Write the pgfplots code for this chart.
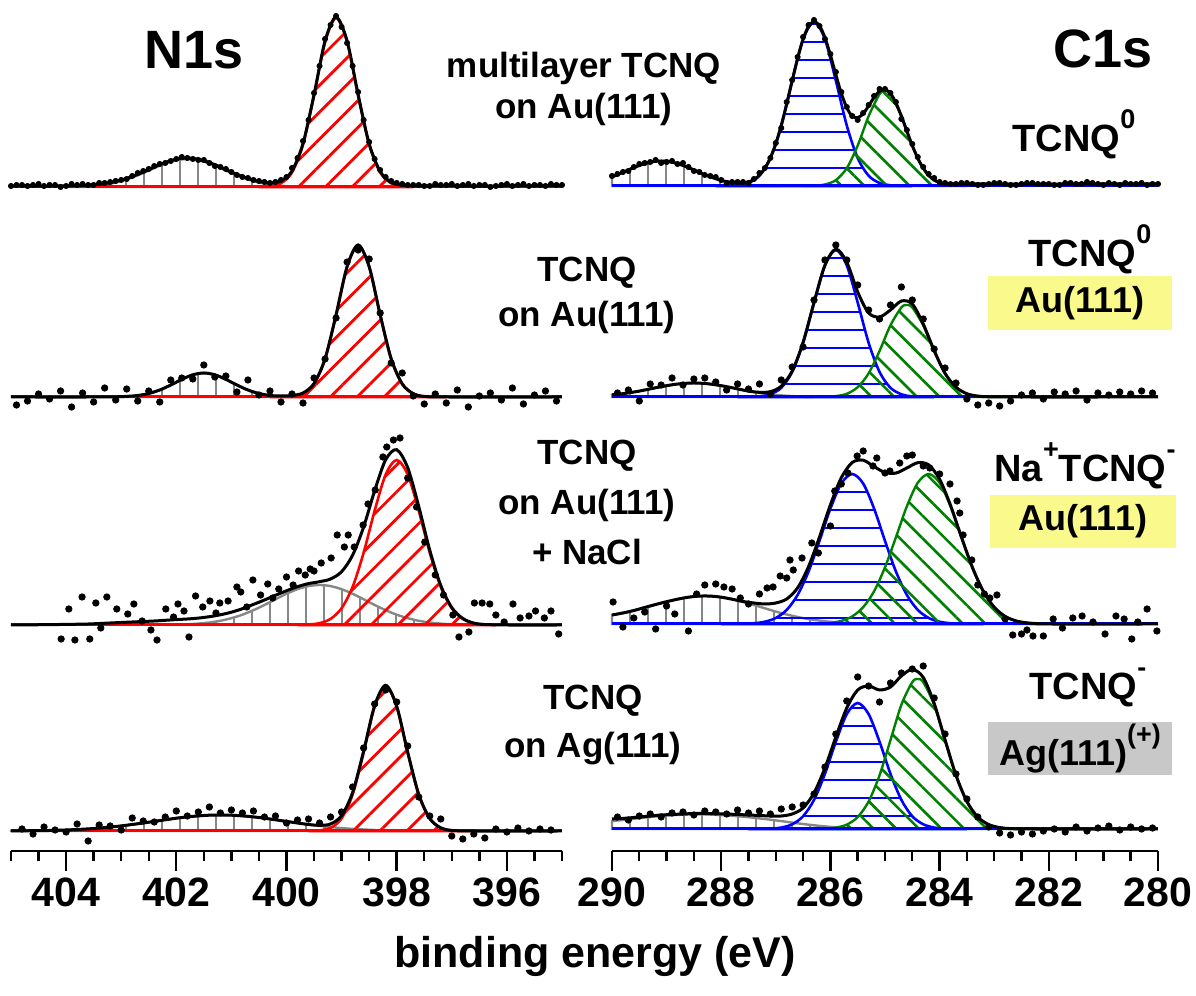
\documentclass[border=0pt]{standalone}
\usepackage{fontspec}
\setmainfont{Liberation Sans}
\usepackage{pgfplots}
\pgfplotsset{compat=1.18}
\usetikzlibrary{patterns.meta}
\definecolor{cred}{RGB}{255,0,0}
\definecolor{cblue}{RGB}{0,0,255}
\definecolor{cgreen}{RGB}{0,128,0}
\definecolor{cgray}{RGB}{135,135,135}
\definecolor{boxyellow}{RGB}{250,250,140}
\definecolor{boxgray}{RGB}{200,200,200}
\newcommand{\lab}{\fontsize{17.5}{20}\selectfont\bfseries}
\newcommand{\rlab}{\fontsize{19}{22}\selectfont\bfseries}
\newcommand{\sups}[1]{\raisebox{0.62em}{\fontsize{13.5}{14}\selectfont #1}}
\pgfplotsset{
  panel/.style={scale only axis, anchor=south west, clip=false, x dir=reverse},
  npanel/.style={panel, width=275.5pt, xmin=395, xmax=405},
  cpanel/.style={panel, width=273pt, xmin=280, xmax=290},
  hatchred/.style={draw=cred, line width=1.3pt, smooth, pattern={Lines[angle=45,distance=9.5pt,line width=1.4pt]}, pattern color=cred},
  hatchblue/.style={draw=cblue, line width=1.3pt, smooth, pattern={Lines[angle=0,distance=9pt,line width=1.4pt]}, pattern color=cblue},
  hatchgreen/.style={draw=cgreen, line width=1.2pt, smooth, pattern={Lines[angle=-45,distance=8pt,line width=1.3pt]}, pattern color=cgreen},
  hatchgray/.style={draw=cgray, line width=1.2pt, smooth, pattern={Lines[angle=90,distance=9pt,line width=1.3pt]}, pattern color=cgray},
  env/.style={black, line width=1.5pt, smooth},
  pts/.style={only marks, mark=*, mark size=1.6pt, black},
  bottomaxis/.style={axis x line*=bottom, axis y line=none, tick align=outside,
    major tick length=10pt, minor tick length=5pt,
    every tick/.style={black, line width=1.2pt},
    axis line style={black, line width=1.2pt},
    xticklabel style={font=\fontsize{20.5}{24}\selectfont\bfseries}},
}
\begin{document}
\begin{tikzpicture}
\useasboundingbox (0,0) rectangle (598pt,498pt);

% ================= N1s row 1 =================
\begin{axis}[npanel, hide axis, at={(5.5pt,389.5pt)}, height=115pt, ymin=-30, ymax=200]
\addplot[hatchgray] coordinates {(403.9,0.2)(403.7,0.5)(403.5,1.3)(403.3,2.4)(403.1,4.5)(402.9,7.6)(402.7,11.6)(402.5,16.4)(402.3,21.3)(402.1,25.3)(401.9,27.6)(401.7,27.6)(401.5,25.3)(401.3,21.3)(401.1,16.4)(400.9,11.6)(400.7,7.6)(400.5,4.5)(400.3,2.4)(400.1,1.3)(399.9,0.5)(399.7,0.2)} \closedcycle;
\addplot[hatchred] coordinates {(400.5,0)(400.3,0.7)(400.1,3.7)(399.9,14.5)(399.7,42.4)(399.5,91.4)(399.3,145)(399.1,169)(398.9,145)(398.7,91.4)(398.5,42.4)(398.3,14.5)(398.1,3.7)(397.9,0.7)(397.7,0)} \closedcycle;
\addplot[cred, line width=1.5pt] coordinates {(405,0)(395,0)};
\addplot[env] coordinates {(405,1)(404.1,1)(403.9,1.2)(403.7,1.5)(403.5,2.3)(403.3,3.4)(403.1,5.5)(402.9,8.6)(402.7,12.6)(402.5,17.4)(402.3,22.3)(402.1,26.3)(401.9,28.6)(401.7,28.6)(401.5,26.3)(401.3,22.3)(401.1,17.4)(400.9,12.6)(400.7,8.6)(400.5,5.5)(400.3,4.1)(400.1,6)(399.9,16)(399.7,43.6)(399.5,92.4)(399.3,146)(399.1,170)(398.9,146)(398.7,92.4)(398.5,43.4)(398.3,15.5)(398.1,4.7)(397.9,1.7)(397.7,1.2)(397.3,1)(395,1)};
\addplot[pts, mark size=1.3pt] coordinates {(405.0,1)(404.9,2)(404.8,2)(404.7,1)(404.6,2)(404.5,3)(404.4,1)(404.3,2)(404.2,2)(404.1,0)(404.0,1)(403.9,3)(403.8,2)(403.7,3)(403.6,2)(403.5,2)(403.4,4)(403.3,4)(403.2,5)(403.1,6)(403.0,7)(402.9,8)(402.8,11)(402.7,14)(402.6,16)(402.5,18)(402.4,21)(402.3,23)(402.2,24)(402.1,26)(402.0,28)(401.9,30)(401.8,29)(401.7,28)(401.6,27)(401.5,27)(401.4,24)(401.3,21)(401.2,20)(401.1,18)(401.0,15)(400.9,12)(400.8,10)(400.7,9)(400.6,7)(400.5,6)(400.4,5)(400.3,4)(400.2,5)(400.1,7)(400.0,10)(399.9,19)(399.8,29)(399.7,46)(399.6,67)(399.5,94)(399.4,121)(399.3,148)(399.2,162)(399.1,171)(399.0,160)(398.9,144)(398.8,121)(398.7,95)(398.6,67)(398.5,45)(398.4,28)(398.3,17)(398.2,10)(398.1,6)(398.0,4)(397.9,3)(397.8,2)(397.7,2)(397.6,2)(397.5,1)(397.4,1)(397.3,3)(397.2,2)(397.1,2)(397.0,3)(396.9,1)(396.8,2)(396.7,3)(396.6,1)(396.5,2)(396.4,2)(396.3,0)(396.2,1)(396.1,2)(396.0,3)(395.9,1)(395.8,2)(395.7,3)(395.6,1)(395.5,2)(395.4,2)(395.3,1)(395.2,3)(395.1,2)(395.0,2)};
\end{axis}

% ================= N1s row 2 =================
\begin{axis}[npanel, hide axis, at={(5.5pt,284.5pt)}, height=115pt, ymin=-30, ymax=200]
\addplot[hatchgray] coordinates {(403.5,0)(403.1,0.2)(402.9,0.6)(402.7,1.5)(402.5,3.5)(402.3,7.0)(402.1,12.0)(401.9,17.6)(401.7,22.2)(401.5,24)(401.3,22.2)(401.1,17.6)(400.9,12.0)(400.7,7.0)(400.5,3.5)(400.3,1.5)(400.1,0.6)(399.9,0.2)(399.5,0)} \closedcycle;
\addplot[hatchred] coordinates {(400.3,0)(399.9,0.6)(399.7,3.3)(399.5,13.1)(399.3,38.2)(399.1,82.2)(398.9,130.4)(398.7,152)(398.5,130.4)(398.3,82.2)(398.1,38.2)(397.9,13.1)(397.7,3.3)(397.5,0.6)(397.1,0)} \closedcycle;
\addplot[cred, line width=1.5pt] coordinates {(405,0)(395,0)};
\addplot[env] coordinates {(405,0)(403.5,0)(403.1,0.2)(402.9,0.6)(402.7,1.5)(402.5,3.5)(402.3,7.0)(402.1,12)(401.9,17.6)(401.7,22.2)(401.5,24)(401.3,22.2)(401.1,17.6)(400.9,12)(400.7,7)(400.5,3.5)(400.3,1.5)(400.1,1)(399.9,1.5)(399.7,4)(399.5,13.5)(399.3,38.2)(399.1,82.2)(398.9,130.4)(398.7,152)(398.5,130.4)(398.3,82.2)(398.1,38.2)(397.9,13.1)(397.7,3.3)(397.5,0.6)(397.1,0)(395,0)};
\addplot[pts] coordinates {(404.9,-8)(404.7,-4)(404.5,3)(404.3,-2)(404.1,6)(403.9,-10)(403.7,4)(403.5,-5)(403.3,9)(403.1,-3)(402.9,8)(402.7,-4)(402.5,6)(402.3,-5)(402.1,17)(401.9,19)(401.7,18)(401.5,32)(401.3,20)(401.1,21)(400.9,5)(400.7,17)(400.5,2)(400.3,6)(400.1,-5)(399.9,3)(399.7,-6)(399.5,19)(399.3,38)(399.1,79)(398.9,135)(398.7,147)(398.5,138)(398.3,84)(398.1,34)(397.9,24)(397.7,1)(397.5,-7)(397.3,3)(397.1,-6)(396.9,7)(396.7,-10)(396.5,1)(396.3,4)(396.1,-3)(395.9,9)(395.7,-7)(395.5,2)(395.3,6)(395.1,-4)};
\end{axis}

% ================= N1s row 3 =================
\begin{axis}[npanel, hide axis, at={(5.5pt,170.5pt)}, height=115pt, ymin=-30, ymax=200]
\addplot[hatchgray] coordinates {(402.2,0)(402.0,0.4)(401.8,0.7)(401.6,1.4)(401.4,2.5)(401.2,4.2)(401.0,6.8)(400.8,10.3)(400.6,14.8)(400.4,20)(400.2,25.7)(400.0,31.2)(399.8,35.8)(399.6,38.9)(399.4,40)(399.2,38.9)(399.0,35.8)(398.8,31.2)(398.6,25.7)(398.4,20)(398.2,14.8)(398.0,10.3)(397.8,6.8)(397.6,4.2)(397.4,2.5)(397.2,1.4)(397.0,0.7)(396.8,0.4)(396.6,0)} \closedcycle;
\addplot[hatchred] coordinates {(399.8,0)(399.6,0.5)(399.4,1.8)(399.2,6.1)(399.0,16.7)(398.8,38.1)(398.6,72.3)(398.4,114.3)(398.2,150.5)(398.0,165)(397.8,150.5)(397.6,114.3)(397.4,72.3)(397.2,38.1)(397.0,16.7)(396.8,6.1)(396.6,1.8)(396.4,0.5)(396.2,0)} \closedcycle;
\addplot[cred, line width=1.5pt] coordinates {(405,0)(395,0)};
\addplot[env] coordinates {(405,0)(404.4,0.3)(404.0,0.6)(403.6,1)(403.2,2)(402.8,3)(402.4,4)(402.0,5.4)(401.8,6)(401.6,6.9)(401.4,8.3)(401.2,10.2)(401.0,12.8)(400.8,16.3)(400.6,20.6)(400.4,25)(400.2,29.7)(400.0,34.2)(399.8,38.3)(399.6,41.4)(399.4,43.3)(399.2,46)(399.0,53.3)(398.8,69.8)(398.6,98)(398.4,134.3)(398.2,165.3)(398.0,175.3)(397.8,157.3)(397.6,118.5)(397.4,74.8)(397.2,39.5)(397.0,17.4)(396.8,6.5)(396.6,1.8)(396.4,0.5)(396.0,0)(395,0)};
\addplot[pts] coordinates {(404.09,-14)(403.95,16)(403.84,-15)(403.71,28)(403.57,-14)(403.46,22)(403.37,-3)(403.26,28)(403.08,16)(402.88,11)(402.77,21)(402.62,4)(402.46,-5)(402.35,-15)(402.19,16)(402.05,8)(401.97,21)(401.86,14)(401.77,-12)(401.65,29)(401.52,18)(401.39,24)(401.28,12)(401.21,22)(401.06,24)(400.90,38)(400.83,33)(400.72,18)(400.61,45)(400.47,30)(400.34,41)(400.25,27)(400.14,36)(400.00,48)(399.88,40)(399.78,54)(399.66,50)(399.57,56)(399.50,54)(399.37,62)(399.19,67)(399.08,90)(398.95,78)(398.88,90)(398.77,78)(398.61,100)(398.52,121)(398.39,135)(398.25,168)(398.18,178)(398.06,185)(397.94,187)(397.80,147)(397.64,118)(397.49,83)(397.30,50)(397.15,30)(396.98,10)(396.87,-12)(396.69,-7)(396.59,22)(396.45,22)(396.31,21)(396.20,10)(396.05,3)(395.89,21)(395.76,7)(395.60,9)(395.48,14)(395.32,7)(395.20,14)(395.06,-9)};
\end{axis}

% ================= N1s row 4 (with x axis) =================
\begin{axis}[npanel, bottomaxis, at={(5.5pt,72.5pt)}, height=110pt, ymin=-20, ymax=200,
  xtick={396,398,400,402,404}, xticklabels={396,398,400,402,404},
  minor xtick={395,395.5,...,405}]
\addplot[hatchgray] coordinates {(405.0,0.1)(404.8,0.2)(404.6,0.3)(404.4,0.4)(404.2,0.7)(404.0,1.0)(403.8,1.5)(403.6,2.1)(403.4,2.9)(403.2,3.9)(403.0,5.1)(402.8,6.5)(402.6,8)(402.4,9.6)(402.2,11.2)(402.0,12.8)(401.8,14.1)(401.6,15.1)(401.4,15.8)(401.2,16)(401.0,15.8)(400.8,15.1)(400.6,14.1)(400.4,12.8)(400.2,11.2)(400.0,9.6)(399.8,8)(399.6,6.5)(399.4,5.1)(399.2,3.9)(399.0,2.9)(398.8,2.1)(398.6,1.5)(398.4,1.0)(398.2,0.7)(398.0,0.4)(397.8,0.3)(397.6,0.2)(397.4,0)} \closedcycle;
\addplot[hatchred] coordinates {(399.6,0)(399.4,0.6)(399.2,3.1)(399.0,12.5)(398.8,36.4)(398.6,78.4)(398.4,124.4)(398.2,145)(398.0,124.4)(397.8,78.4)(397.6,36.4)(397.4,12.5)(397.2,3.1)(397.0,0.6)(396.6,0)} \closedcycle;
\addplot[cred, line width=1.5pt] coordinates {(405,0)(395,0)};
\addplot[env] coordinates {(405,0.1)(404.8,0.2)(404.4,0.4)(404.0,1.0)(403.6,2.1)(403.4,2.9)(403.2,3.9)(403.0,5.1)(402.8,6.5)(402.6,8)(402.4,9.6)(402.2,11.2)(402.0,12.8)(401.8,14.1)(401.6,15.1)(401.4,15.8)(401.2,16)(401.0,15.8)(400.8,15.1)(400.6,14.1)(400.4,12.8)(400.2,11.2)(400.0,9.6)(399.8,8)(399.6,6.5)(399.4,5.7)(399.2,7.0)(399.0,15.4)(398.8,38.5)(398.6,79.9)(398.4,125.4)(398.2,145.7)(398.0,124.8)(397.8,78.7)(397.6,36.6)(397.4,12.5)(397.2,3.1)(397.0,0.6)(396.6,0)(395,0)};
\addplot[pts] coordinates {(404.8,2)(404.6,-3)(404.4,4)(404.2,1)(404.0,-1)(403.8,7)(403.6,-10)(403.4,6)(403.2,5)(403.0,1)(402.8,13)(402.6,10)(402.4,9)(402.2,14)(402.0,20)(401.8,15)(401.6,19)(401.4,24)(401.2,18)(401.0,21)(400.8,18)(400.6,20)(400.4,14)(400.2,15)(400.0,8)(399.8,11)(399.6,12)(399.4,8)(399.2,14)(399.0,19)(398.8,44)(398.6,83)(398.4,127)(398.2,141)(398.0,129)(397.8,85)(397.6,34)(397.4,15)(397.2,12)(397.0,-5)(396.8,-8)(396.6,-3)(396.4,-7)(396.2,2)(396.0,-1)(395.8,3)(395.6,0)(395.4,2)(395.2,1)};
\end{axis}

% ================= C1s row 1 =================
\begin{axis}[cpanel, hide axis, at={(306pt,390pt)}, height=115pt, ymin=-30, ymax=200]
\addplot[hatchgray] coordinates {(290.0,9.2)(289.9,11.3)(289.7,16.1)(289.5,20.5)(289.3,23.8)(289.1,25)(288.9,23.8)(288.7,20.5)(288.5,16.1)(288.3,11.3)(288.1,7.3)(287.9,4.3)(287.7,2.2)(287.5,1.1)(287.3,0.45)(287.1,0.2)(286.9,0)} \closedcycle;
\addplot[hatchblue] coordinates {(288.1,0)(287.9,0.1)(287.7,0.7)(287.5,3.0)(287.3,10.3)(287.1,27.9)(286.9,60.5)(286.7,105.3)(286.5,146.8)(286.3,164)(286.1,146.8)(285.9,105.3)(285.7,60.5)(285.5,27.9)(285.3,10.3)(285.1,3.0)(284.9,0.7)(284.7,0.1)(284.5,0)} \closedcycle;
\addplot[hatchgreen] coordinates {(286.5,0)(286.3,0.3)(286.1,1.5)(285.9,5.9)(285.7,17.8)(285.5,40.4)(285.3,69.8)(285.1,91.8)(285.0,95)(284.9,91.8)(284.7,69.8)(284.5,40.4)(284.3,17.8)(284.1,5.9)(283.9,1.5)(283.7,0.3)(283.5,0)} \closedcycle;
\addplot[cblue, line width=1.5pt] coordinates {(290,0)(280,0)};
\addplot[env] coordinates {(290.0,9.2)(289.9,11.3)(289.8,13.7)(289.7,16.1)(289.6,18.4)(289.5,20.5)(289.4,22.4)(289.3,23.8)(289.2,24.7)(289.1,25)(289.0,24.7)(288.9,23.8)(288.8,22.4)(288.7,20.5)(288.6,18.4)(288.5,16.1)(288.4,13.7)(288.3,11.3)(288.2,9.2)(288.1,7.3)(288.0,5.6)(287.9,4.4)(287.8,3.4)(287.7,2.9)(287.6,3.1)(287.5,4.1)(287.4,6.4)(287.3,10.8)(287.2,17.7)(287.1,28.1)(287.0,42.1)(286.9,60.5)(286.8,82)(286.7,105.3)(286.6,127.8)(286.5,146.8)(286.4,159.6)(286.3,164.3)(286.2,160.3)(286.1,148.3)(286.0,130.9)(285.9,111.2)(285.8,92.6)(285.7,78.3)(285.6,69.8)(285.5,68.3)(285.4,72.3)(285.3,80.1)(285.2,88.5)(285.1,94.8)(285.0,96.5)(284.9,92.5)(284.8,83.1)(284.7,69.9)(284.6,54.9)(284.5,40.4)(284.4,27.7)(284.3,17.8)(284.2,10.6)(284.1,5.9)(284.0,3.5)(283.9,2.2)(283.7,2)(280,2)};
\addplot[pts, mark size=1.3pt] coordinates {(290.0,10)(289.9,12)(289.8,14)(289.7,15)(289.6,19)(289.5,22)(289.4,23)(289.3,24)(289.2,26)(289.1,23)(289.0,24)(288.9,25)(288.8,22)(288.7,23)(288.6,19)(288.5,15)(288.4,14)(288.3,11)(288.2,10)(288.1,9)(288.0,6)(287.9,3)(287.8,4)(287.7,4)(287.6,4)(287.5,3)(287.4,7)(287.3,13)(287.2,18)(287.1,28)(287.0,43)(286.9,58)(286.8,84)(286.7,106)(286.6,129)(286.5,149)(286.4,161)(286.3,166)(286.2,160)(286.1,147)(286.0,132)(285.9,114)(285.8,94)(285.7,79)(285.6,70)(285.5,66)(285.4,73)(285.3,81)(285.2,90)(285.1,97)(285.0,97)(284.9,93)(284.8,84)(284.7,67)(284.6,56)(284.5,42)(284.4,29)(284.3,19)(284.2,12)(284.1,8)(284.0,4)(283.9,3)(283.8,2)(283.7,2)(283.6,3)(283.5,3)(283.4,2)(283.3,1)(283.2,1)(283.1,2)(283.0,3)(282.9,3)(282.8,2)(282.7,1)(282.6,1)(282.5,2)(282.4,3)(282.3,3)(282.2,2)(282.1,2)(282.0,2)(281.9,1)(281.8,1)(281.7,3)(281.6,3)(281.5,2)(281.4,2)(281.3,4)(281.2,3)(281.1,2)(281.0,1)(280.9,3)(280.8,2)(280.7,1)(280.6,3)(280.5,2)(280.4,2)(280.3,3)(280.2,1)(280.1,2)(280.0,2)};
\end{axis}

% ================= C1s row 2 =================
\begin{axis}[cpanel, hide axis, at={(306pt,284.5pt)}, height=115pt, ymin=-30, ymax=200]
\addplot[hatchgray] coordinates {(290.0,2.2)(289.9,2.6)(289.7,4.1)(289.5,5.9)(289.3,8.1)(289.1,10.3)(288.9,12.2)(288.7,13.5)(288.5,14)(288.3,13.5)(288.1,12.2)(287.9,10.3)(287.7,8.1)(287.5,5.9)(287.3,4.1)(287.1,2.6)(286.9,1.6)(286.7,0.9)(286.5,0.5)(286.3,0)} \closedcycle;
\addplot[hatchblue] coordinates {(287.7,0)(287.3,0.6)(287.1,2.7)(286.9,9.2)(286.7,25)(286.5,54.2)(286.3,94.4)(286.1,131.6)(285.9,147)(285.7,131.6)(285.5,94.4)(285.3,54.2)(285.1,25)(284.9,9.2)(284.7,2.7)(284.5,0.6)(284.1,0)} \closedcycle;
\addplot[hatchgreen] coordinates {(286.5,0)(286.1,0.2)(285.9,0.85)(285.7,3.2)(285.5,9.8)(285.3,23.6)(285.1,46)(284.9,71.7)(284.7,89.5)(284.6,92)(284.5,89.5)(284.3,71.7)(284.1,46)(283.9,23.6)(283.7,9.8)(283.5,3.2)(283.3,0.85)(283.1,0.2)(282.7,0)} \closedcycle;
\addplot[cblue, line width=1.5pt] coordinates {(290,0)(280,0)};
\addplot[env] coordinates {(290.0,2.2)(289.9,2.6)(289.7,4.1)(289.5,5.9)(289.3,8.1)(289.1,10.3)(288.9,12.2)(288.7,13.5)(288.5,14)(288.3,13.5)(288.1,12.2)(287.9,10.3)(287.7,8.1)(287.5,5.9)(287.3,4.7)(287.1,5.3)(286.9,10.8)(286.7,25.9)(286.5,54.7)(286.3,94.4)(286.1,131.8)(285.9,147.9)(285.7,134.8)(285.5,105)(285.3,84)(285.1,80)(284.9,87)(284.7,96)(284.5,93)(284.3,73)(284.1,46.5)(283.9,23.6)(283.7,9.8)(283.5,3.2)(283.3,0.9)(283.1,0.2)(282.7,0)(280,0)};
\addplot[pts] coordinates {(289.9,4)(289.7,7)(289.5,-4)(289.3,13)(289.1,12)(288.9,19)(288.7,12)(288.5,18)(288.3,19)(288.1,15)(287.9,7)(287.7,13)(287.5,8)(287.3,13)(287.1,3)(286.9,17)(286.7,30)(286.5,50)(286.3,97)(286.1,137)(285.9,152)(285.7,137)(285.5,112)(285.3,87)(285.1,78)(284.9,92)(284.7,110)(284.5,97)(284.3,78)(284.1,48)(283.9,29)(283.7,14)(283.5,-2)(283.3,-8)(283.1,-6)(282.9,-9)(282.7,-4)(282.5,2)(282.3,4)(282.1,-2)(281.9,5)(281.7,3)(281.5,6)(281.3,-3)(281.1,4)(280.9,2)(280.7,5)(280.5,3)(280.3,6)(280.1,4)};
\end{axis}

% ================= C1s row 3 =================
\begin{axis}[cpanel, hide axis, at={(306pt,171pt)}, height=115pt, ymin=-30, ymax=200]
\addplot[hatchgray] coordinates {(290.0,9.0)(289.8,11.0)(289.6,13.5)(289.4,16.5)(289.2,19.5)(289.0,22.3)(288.8,24.8)(288.6,26.8)(288.4,27.9)(288.2,27.9)(288.0,26.8)(287.8,24.8)(287.6,22.1)(287.4,19)(287.2,15.7)(287.0,12.4)(286.8,9.5)(286.6,7.0)(286.4,4.9)(286.2,3.4)(286.0,2.2)(285.8,1.4)(285.6,0.8)(285.4,0.5)(285.0,0)} \closedcycle;
\addplot[hatchblue] coordinates {(288.0,0)(287.6,0.2)(287.4,0.7)(287.2,2.25)(287.0,6.0)(286.8,14.1)(286.6,29.1)(286.4,52.5)(286.2,83.1)(286.0,115.4)(285.8,140.5)(285.6,150)(285.4,140.5)(285.2,115.4)(285.0,83.1)(284.8,52.5)(284.6,29.1)(284.4,14.1)(284.2,6.0)(284.0,2.25)(283.8,0.7)(283.6,0.2)(283.2,0)} \closedcycle;
\addplot[hatchgreen] coordinates {(286.6,0)(286.2,0.35)(286.0,1.1)(285.8,3.1)(285.6,7.6)(285.4,16.8)(285.2,32.7)(285.0,56.7)(284.8,86.7)(284.6,117.6)(284.4,141.2)(284.2,150)(284.0,141.2)(283.8,117.6)(283.6,86.7)(283.4,56.7)(283.2,32.7)(283.0,16.8)(282.8,7.6)(282.6,3.1)(282.4,1.1)(282.2,0.35)(281.8,0)} \closedcycle;
\addplot[cblue, line width=1.5pt] coordinates {(290,0)(280,0)};
\addplot[env] coordinates {(290.0,9.0)(289.8,11.0)(289.6,13.5)(289.4,16.5)(289.2,19.5)(289.0,22.3)(288.8,24.8)(288.6,26.8)(288.4,27.9)(288.2,27.9)(288.0,26.8)(287.8,24.8)(287.6,22.5)(287.4,21)(287.2,20)(287.0,21)(286.8,25)(286.6,36.1)(286.4,57.4)(286.2,86.9)(286.0,119.1)(285.8,146.3)(285.6,161.5)(285.4,163.8)(285.2,157.4)(285.0,151.5)(284.8,150.9)(284.6,156)(284.4,161.3)(284.2,159.1)(284.0,144.8)(283.8,118.7)(283.6,86.9)(283.4,56.7)(283.2,32.7)(283.0,16.8)(282.8,7.6)(282.6,3.1)(282.4,1.1)(282.2,0.35)(282.0,0)(280,0)};
\addplot[pts] coordinates {(289.98,22)(289.80,-3)(289.60,6)(289.40,12)(289.20,-5)(289.00,18)(288.85,10)(288.60,-7)(288.45,30)(288.30,39)(288.10,40)(287.95,37)(287.80,35)(287.65,26)(287.50,20)(287.30,30)(287.16,36)(287.05,37)(286.92,48)(286.80,46)(286.74,64)(286.68,54)(286.52,66)(286.34,81)(286.22,71)(286.00,98)(285.92,133)(285.80,140)(285.68,151)(285.51,168)(285.40,173)(285.22,158)(285.15,166)(285.00,151)(284.91,153)(284.73,161)(284.60,168)(284.50,169)(284.30,158)(284.18,156)(284.00,150)(283.81,140)(283.68,123)(283.63,111)(283.57,89)(283.41,64)(283.30,39)(283.18,30)(283.08,26)(282.95,29)(282.80,5)(282.66,-11)(282.50,-10)(282.40,-6)(282.29,-12)(282.10,-12)(281.92,5)(281.75,-4)(281.56,6)(281.39,8)(281.19,2)(280.97,-10)(280.77,8)(280.62,5)(280.48,-15)(280.37,2)(280.20,15)(280.02,-7)};
\end{axis}

% ================= C1s row 4 (with x axis) =================
\begin{axis}[cpanel, bottomaxis, at={(306pt,72.5pt)}, height=111pt, ymin=-22, ymax=200,
  xtick={280,282,284,286,288,290}, xticklabels={280,282,284,286,288,290},
  minor xtick={280,280.5,...,290}]
\addplot[hatchgray] coordinates {(290.0,8)(289.9,8.5)(289.7,9.5)(289.5,10.8)(289.3,12)(289.1,13)(288.9,13.8)(288.7,14.3)(288.5,14.6)(288.3,14.6)(288.1,14.2)(287.9,13.6)(287.7,12.8)(287.5,11.8)(287.3,10.6)(287.1,9.3)(286.9,7.9)(286.7,6.4)(286.5,5)(286.3,3.7)(286.1,2.6)(285.9,1.7)(285.7,1.0)(285.5,0.5)(285.3,0.2)(284.9,0)} \closedcycle;
\addplot[hatchblue] coordinates {(287.5,0)(287.1,0.35)(286.9,1.4)(286.7,4.7)(286.5,12.7)(286.3,29.1)(286.1,55.2)(285.9,87.3)(285.7,114.9)(285.5,126)(285.3,114.9)(285.1,87.3)(284.9,55.2)(284.7,29.1)(284.5,12.7)(284.3,4.7)(284.1,1.4)(283.9,0.35)(283.5,0)} \closedcycle;
\addplot[hatchgreen] coordinates {(286.5,0)(286.1,0.35)(285.9,1.35)(285.7,4.35)(285.5,11.9)(285.3,27.5)(285.1,53.7)(284.9,88.8)(284.7,124.2)(284.5,146.9)(284.4,150)(284.3,146.9)(284.1,124.2)(283.9,88.8)(283.7,53.7)(283.5,27.5)(283.3,11.9)(283.1,4.35)(282.9,1.35)(282.7,0.35)(282.3,0)} \closedcycle;
\addplot[cblue, line width=1.5pt] coordinates {(290,0)(280,0)};
\addplot[env] coordinates {(290.0,10)(289.9,10.2)(289.7,11)(289.5,12)(289.3,13)(289.1,14)(288.9,14.5)(288.7,15)(288.5,15.5)(288.3,15.5)(288.1,15.3)(287.9,15)(287.7,14.5)(287.5,14)(287.3,13.5)(287.1,13)(286.9,13)(286.7,15)(286.5,21)(286.3,36)(286.1,61)(285.9,92)(285.7,121)(285.5,139)(285.3,143)(285.1,139)(284.9,142)(284.7,153)(284.5,159.6)(284.3,151.6)(284.1,125.6)(283.9,89.2)(283.7,53.7)(283.5,27.5)(283.3,11.9)(283.1,4.4)(282.9,1.4)(282.7,0.4)(282.3,0)(280,0)};
\addplot[pts] coordinates {(289.9,12)(289.7,9)(289.5,13)(289.3,15)(289.1,12)(288.9,16)(288.7,17)(288.5,14)(288.3,18)(288.1,17)(287.9,15)(287.7,19)(287.5,16)(287.3,18)(287.1,15)(286.9,20)(286.7,22)(286.5,24)(286.3,35)(286.1,62)(285.9,95)(285.7,128)(285.5,152)(285.3,143)(285.1,127)(284.9,146)(284.7,156)(284.5,160)(284.3,163)(284.1,131)(283.9,95)(283.7,55)(283.5,30)(283.3,12)(283.1,2)(282.9,-4)(282.7,-6)(282.5,-3)(282.3,-5)(282.1,-2)(281.9,0)(281.7,-3)(281.5,2)(281.3,-2)(281.1,1)(280.9,3)(280.7,-1)(280.5,2)(280.3,0)(280.1,1)};
\end{axis}

% ================= texts =================
\node[font=\fontsize{27}{31}\selectfont\bfseries] at (97pt,473pt) {N1s};
\node[font=\fontsize{27}{31}\selectfont\bfseries] at (551.5pt,473.5pt) {C1s};

\node[anchor=base, font=\lab] at (292pt,459pt) {multilayer TCNQ};
\node[anchor=base, font=\lab] at (292pt,438.5pt) {on Au(111)};

\node[anchor=base, font=\lab] at (293.5pt,357pt) {TCNQ};
\node[anchor=base, font=\lab] at (293.5pt,334.5pt) {on Au(111)};

\node[anchor=base, font=\lab] at (293.5pt,265.5pt) {TCNQ};
\node[anchor=base, font=\lab] at (293.5pt,240.5pt) {on Au(111)};
\node[anchor=base, font=\lab] at (293.5pt,215.5pt) {+ NaCl};

\node[anchor=base, font=\lab] at (296.5pt,143pt) {TCNQ};
\node[anchor=base, font=\lab] at (296.5pt,119pt) {on Ag(111)};

\node[anchor=base, font=\rlab] at (537pt,422pt) {TCNQ\sups{0}};

\node[anchor=base, font=\rlab] at (545pt,364.5pt) {TCNQ\sups{0}};
\fill[boxyellow] (494pt,333pt) rectangle (586pt,360pt);
\node[font=\fontsize{18}{21}\selectfont\bfseries] at (540pt,346.5pt) {Au(111)};

\node[anchor=base, font=\rlab] at (542.5pt,257pt) {Na\sups{+}TCNQ\sups{-}};
\fill[boxyellow] (495pt,224pt) rectangle (588pt,250.5pt);
\node[font=\fontsize{18}{21}\selectfont\bfseries] at (541.5pt,237.25pt) {Au(111)};

\node[anchor=base, font=\rlab] at (544pt,148pt) {TCNQ\sups{-}};
\fill[boxgray] (494pt,110.5pt) rectangle (586pt,137pt);
\node[font=\fontsize{18}{21}\selectfont\bfseries] at (540pt,123.75pt) {Ag(111)\sups{(+)}};

\node[anchor=base, font=\fontsize{21.5}{25}\selectfont\bfseries] at (297.5pt,14pt) {binding energy (eV)};
\end{tikzpicture}
\end{document}
